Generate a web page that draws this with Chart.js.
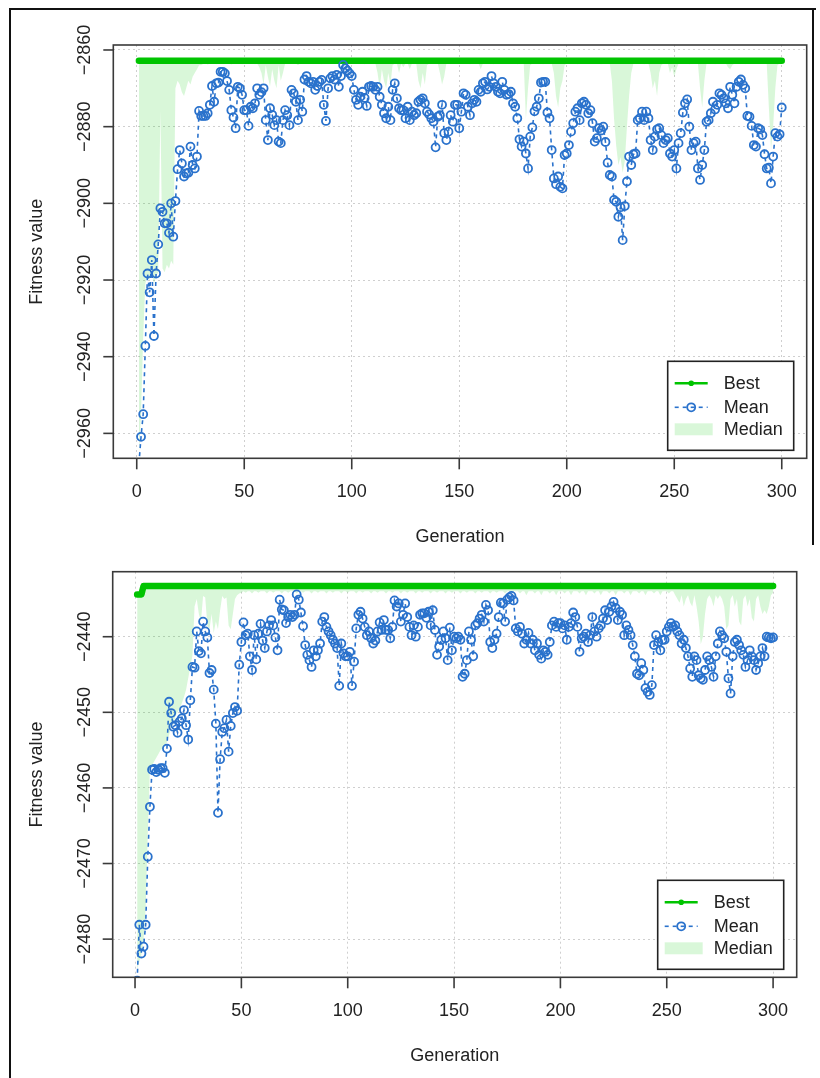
<!DOCTYPE html>
<html>
<head>
<meta charset="utf-8">
<script src="https://cdn.jsdelivr.net/npm/chart.js@4.4.1/dist/chart.umd.min.js"></script>
<style>
  html, body { margin: 0; padding: 0; background: #fff; }
  body { width: 820px; height: 1078px; position: relative; overflow: hidden; }
  canvas { position: absolute; left: 0; }
  #frameTop { position: absolute; left: 9px; top: 8px; width: 805px; height: 1100px; border-left: 2px solid #111; border-top: 2px solid #111; }
  #frameRight { position: absolute; left: 812px; top: 8px; width: 0; height: 537px; border-left: 2px solid #111; }
</style>
</head>
<body>
<div id="frameTop"></div>
<div id="frameRight"></div>
<canvas id="chartTop" width="820" height="560" style="top:0"></canvas>
<canvas id="chartBottom" width="820" height="538" style="top:540px"></canvas>

<script>
// generations 1..300
const generations = Array.from({ length: 300 }, (_, i) => i + 1);

const xTicks = [0, 50, 100, 150, 200, 250, 300];
const yTicksTop = [-2960, -2940, -2920, -2900, -2880, -2860];
const yTicksBottom = [-2480, -2470, -2460, -2450, -2440];

// ---- top run ----
const bestTop = [
  -2862.8, -2862.8, -2862.8, -2862.8, -2862.8, -2862.8, -2862.8, -2862.8, -2862.8, -2862.8,
  -2862.8, -2862.8, -2862.8, -2862.8, -2862.8, -2862.8, -2862.8, -2862.8, -2862.8, -2862.8,
  -2862.8, -2862.8, -2862.8, -2862.8, -2862.8, -2862.8, -2862.8, -2862.8, -2862.8, -2862.8,
  -2862.8, -2862.8, -2862.8, -2862.8, -2862.8, -2862.8, -2862.8, -2862.8, -2862.8, -2862.8,
  -2862.8, -2862.8, -2862.8, -2862.8, -2862.8, -2862.8, -2862.8, -2862.8, -2862.8, -2862.8,
  -2862.8, -2862.8, -2862.8, -2862.8, -2862.8, -2862.8, -2862.8, -2862.8, -2862.8, -2862.8,
  -2862.8, -2862.8, -2862.8, -2862.8, -2862.8, -2862.8, -2862.8, -2862.8, -2862.8, -2862.8,
  -2862.8, -2862.8, -2862.8, -2862.8, -2862.8, -2862.8, -2862.8, -2862.8, -2862.8, -2862.8,
  -2862.8, -2862.8, -2862.8, -2862.8, -2862.8, -2862.8, -2862.8, -2862.8, -2862.8, -2862.8,
  -2862.8, -2862.8, -2862.8, -2862.8, -2862.8, -2862.8, -2862.8, -2862.8, -2862.8, -2862.8,
  -2862.8, -2862.8, -2862.8, -2862.8, -2862.8, -2862.8, -2862.8, -2862.8, -2862.8, -2862.8,
  -2862.8, -2862.8, -2862.8, -2862.8, -2862.8, -2862.8, -2862.8, -2862.8, -2862.8, -2862.8,
  -2862.8, -2862.8, -2862.8, -2862.8, -2862.8, -2862.8, -2862.8, -2862.8, -2862.8, -2862.8,
  -2862.8, -2862.8, -2862.8, -2862.8, -2862.8, -2862.8, -2862.8, -2862.8, -2862.8, -2862.8,
  -2862.8, -2862.8, -2862.8, -2862.8, -2862.8, -2862.8, -2862.8, -2862.8, -2862.8, -2862.8,
  -2862.8, -2862.8, -2862.8, -2862.8, -2862.8, -2862.8, -2862.8, -2862.8, -2862.8, -2862.8,
  -2862.8, -2862.8, -2862.8, -2862.8, -2862.8, -2862.8, -2862.8, -2862.8, -2862.8, -2862.8,
  -2862.8, -2862.8, -2862.8, -2862.8, -2862.8, -2862.8, -2862.8, -2862.8, -2862.8, -2862.8,
  -2862.8, -2862.8, -2862.8, -2862.8, -2862.8, -2862.8, -2862.8, -2862.8, -2862.8, -2862.8,
  -2862.8, -2862.8, -2862.8, -2862.8, -2862.8, -2862.8, -2862.8, -2862.8, -2862.8, -2862.8,
  -2862.8, -2862.8, -2862.8, -2862.8, -2862.8, -2862.8, -2862.8, -2862.8, -2862.8, -2862.8,
  -2862.8, -2862.8, -2862.8, -2862.8, -2862.8, -2862.8, -2862.8, -2862.8, -2862.8, -2862.8,
  -2862.8, -2862.8, -2862.8, -2862.8, -2862.8, -2862.8, -2862.8, -2862.8, -2862.8, -2862.8,
  -2862.8, -2862.8, -2862.8, -2862.8, -2862.8, -2862.8, -2862.8, -2862.8, -2862.8, -2862.8,
  -2862.8, -2862.8, -2862.8, -2862.8, -2862.8, -2862.8, -2862.8, -2862.8, -2862.8, -2862.8,
  -2862.8, -2862.8, -2862.8, -2862.8, -2862.8, -2862.8, -2862.8, -2862.8, -2862.8, -2862.8,
  -2862.8, -2862.8, -2862.8, -2862.8, -2862.8, -2862.8, -2862.8, -2862.8, -2862.8, -2862.8,
  -2862.8, -2862.8, -2862.8, -2862.8, -2862.8, -2862.8, -2862.8, -2862.8, -2862.8, -2862.8,
  -2862.8, -2862.8, -2862.8, -2862.8, -2862.8, -2862.8, -2862.8, -2862.8, -2862.8, -2862.8,
  -2862.8, -2862.8, -2862.8, -2862.8, -2862.8, -2862.8, -2862.8, -2862.8, -2862.8, -2862.8
];

const meanTop = [
  -2968, -2960.9, -2955.0, -2937.2, -2918.3, -2923.2, -2914.8, -2934.6, -2918.3, -2910.7,
  -2901.3, -2902.2, -2905.2, -2905.2, -2907.7, -2900.0, -2908.7, -2899.4, -2891.1, -2886.1,
  -2889.6, -2893.0, -2892.2, -2892.0, -2885.2, -2890.0, -2890.9, -2887.8, -2875.9, -2877.2,
  -2877.2, -2877.2, -2876.5, -2874.3, -2869.4, -2873.5, -2868.7, -2868.5, -2865.7, -2865.7,
  -2866.1, -2868.1, -2870.4, -2875.7, -2877.6, -2880.4, -2869.6, -2870.0, -2871.7, -2875.7,
  -2875.7, -2879.8, -2874.8, -2875.2, -2873.9, -2870.0, -2871.7, -2871.0, -2870.0, -2878.3,
  -2883.5, -2875.2, -2876.9, -2879.6, -2878.3, -2883.9, -2884.3, -2878.3, -2875.7, -2877.0,
  -2879.6, -2870.4, -2871.3, -2873.5, -2878.3, -2873.0, -2876.1, -2867.7, -2866.8, -2868.3,
  -2868.7, -2868.3, -2870.4, -2869.4, -2868.3, -2867.8, -2874.3, -2878.5, -2870.0, -2867.4,
  -2866.8, -2867.7, -2866.5, -2869.6, -2866.8, -2863.9, -2864.8, -2865.4, -2866.1, -2866.8,
  -2870.4, -2873.0, -2874.3, -2872.2, -2870.9, -2872.5, -2874.6, -2869.6, -2869.4, -2869.6,
  -2870.4, -2869.6, -2872.2, -2874.3, -2876.5, -2877.8, -2874.8, -2878.3, -2870.4, -2868.7,
  -2872.6, -2875.2, -2875.7, -2875.7, -2877.8, -2874.8, -2878.3, -2876.1, -2877.0, -2876.5,
  -2873.5, -2873.0, -2872.6, -2873.9, -2876.1, -2876.8, -2877.8, -2878.7, -2885.4, -2877.4,
  -2877.0, -2874.3, -2881.7, -2883.5, -2881.3, -2877.0, -2878.7, -2874.3, -2874.3, -2880.4,
  -2876.1, -2871.3, -2871.7, -2874.8, -2877.0, -2873.9, -2873.0, -2873.5, -2870.4, -2870.9,
  -2868.7, -2868.3, -2870.3, -2869.6, -2866.8, -2868.7, -2869.6, -2870.9, -2871.3, -2868.3,
  -2870.4, -2871.7, -2871.5, -2870.9, -2873.9, -2874.8, -2877.8, -2883.3, -2885.2, -2883.9,
  -2887.0, -2890.9, -2882.6, -2880.2, -2876.0, -2874.8, -2872.6, -2868.5, -2868.3, -2868.3,
  -2876.3, -2877.8, -2886.1, -2893.5, -2895.0, -2893.0, -2895.7, -2896.1, -2887.4, -2887.0,
  -2884.8, -2881.3, -2879.1, -2876.1, -2875.2, -2878.3, -2873.9, -2873.5, -2874.3, -2876.5,
  -2875.7, -2879.1, -2883.9, -2883.0, -2880.4, -2881.0, -2880.0, -2884.0, -2889.4, -2892.6,
  -2893.0, -2899.1, -2899.6, -2903.5, -2901.0, -2909.6, -2900.7, -2894.3, -2887.8, -2890.0,
  -2887.2, -2887.0, -2878.3, -2877.8, -2876.1, -2878.3, -2876.1, -2877.8, -2883.5, -2886.1,
  -2882.6, -2880.7, -2880.4, -2882.2, -2884.3, -2883.5, -2883.0, -2887.0, -2887.8, -2886.1,
  -2890.9, -2884.3, -2881.7, -2876.3, -2873.9, -2872.9, -2880.0, -2886.1, -2884.3, -2883.9,
  -2890.9, -2893.9, -2890.0, -2886.1, -2878.7, -2878.3, -2876.5, -2873.5, -2875.5, -2874.3,
  -2871.3, -2871.7, -2872.6, -2873.9, -2875.2, -2869.6, -2871.7, -2873.9, -2869.6, -2868.3,
  -2867.7, -2869.1, -2870.0, -2877.2, -2877.4, -2879.8, -2884.8, -2885.2, -2880.4, -2880.7,
  -2882.2, -2887.2, -2890.9, -2890.7, -2894.8, -2887.8, -2881.7, -2882.6, -2882.0, -2875.0
];

const medianTop = [
  -2966, -2955, -2935, -2921, -2919, -2920, -2918, -2921, -2919, -2918,
  -2876, -2917, -2918, -2916, -2917, -2915, -2916, -2870, -2868, -2869,
  -2871, -2872, -2870, -2868, -2869, -2867, -2866, -2865, -2864, -2864,
  -2863.6, -2863.5, -2863.8, -2863.5, -2863.6, -2863.5, -2863.7, -2863.5, -2863.6, -2863.5,
  -2863.5, -2863.6, -2863.5, -2863.8, -2863.5, -2863.6, -2863.5, -2863.5, -2863.7, -2863.5,
  -2863.5, -2863.6, -2863.5, -2863.5, -2863.7, -2863.5, -2864.5, -2866.0, -2869.0, -2864.0,
  -2867.0, -2869.5, -2865.0, -2868.0, -2870.0, -2864.0, -2868.0, -2866.0, -2863.6, -2863.5,
  -2863.5, -2863.6, -2863.5, -2863.5, -2864.0, -2863.5, -2863.6, -2863.5, -2863.5, -2863.5,
  -2863.5, -2863.5, -2863.6, -2863.5, -2863.5, -2863.7, -2863.5, -2863.5, -2863.6, -2863.5,
  -2863.5, -2863.5, -2863.6, -2863.5, -2863.5, -2863.5, -2863.7, -2863.5, -2863.5, -2863.6,
  -2863.5, -2863.5, -2863.6, -2863.5, -2863.5, -2863.7, -2863.5, -2863.5, -2863.6, -2863.5,
  -2863.5, -2866.0, -2870.0, -2865.0, -2868.0, -2870.0, -2866.0, -2869.0, -2864.0, -2863.5,
  -2863.5, -2866.0, -2863.6, -2864.5, -2863.5, -2863.5, -2865.0, -2863.5, -2863.5, -2863.5,
  -2868.0, -2870.0, -2866.0, -2869.0, -2864.0, -2863.5, -2863.5, -2863.5, -2863.6, -2863.5,
  -2866.0, -2869.0, -2867.0, -2863.6, -2863.5, -2863.5, -2863.6, -2863.5, -2863.5, -2863.5,
  -2863.5, -2863.6, -2863.5, -2863.5, -2863.7, -2863.5, -2863.5, -2863.6, -2863.5, -2865.0,
  -2863.5, -2863.5, -2863.6, -2863.5, -2863.5, -2863.7, -2863.5, -2863.5, -2863.6, -2863.5,
  -2863.5, -2863.5, -2863.6, -2863.5, -2863.5, -2863.5, -2863.7, -2863.5, -2863.5, -2863.6,
  -2878.0, -2870.0, -2864.0, -2863.5, -2863.5, -2863.6, -2863.5, -2863.5, -2863.7, -2863.5,
  -2863.5, -2863.5, -2863.5, -2866.0, -2872.0, -2875.0, -2870.0, -2868.0, -2864.0, -2863.5,
  -2863.5, -2863.6, -2863.5, -2863.5, -2863.7, -2863.5, -2863.5, -2863.6, -2863.5, -2863.5,
  -2863.5, -2863.5, -2863.6, -2863.5, -2863.5, -2863.7, -2863.5, -2863.5, -2863.6, -2863.5,
  -2868.0, -2878.0, -2885.0, -2890.0, -2888.0, -2892.0, -2889.0, -2880.0, -2872.0, -2866.0,
  -2863.5, -2863.5, -2863.6, -2863.5, -2863.5, -2863.7, -2863.5, -2863.5, -2866.0, -2870.0,
  -2868.0, -2872.0, -2866.0, -2864.0, -2863.5, -2863.5, -2863.5, -2866.0, -2864.5, -2867.0,
  -2865.0, -2863.5, -2863.5, -2863.6, -2863.5, -2863.5, -2863.7, -2863.5, -2863.5, -2863.5,
  -2863.5, -2870.0, -2875.0, -2868.0, -2863.5, -2863.6, -2863.5, -2863.5, -2863.7, -2863.5,
  -2863.5, -2863.6, -2863.5, -2863.5, -2864.5, -2865.0, -2864.0, -2863.5, -2863.6, -2863.5,
  -2863.5, -2863.5, -2863.7, -2863.5, -2863.5, -2863.6, -2863.5, -2863.5, -2863.5, -2863.5,
  -2863.5, -2863.5, -2863.5, -2875.0, -2886.0, -2880.0, -2870.0, -2864.0, -2863.5, -2863.5
];

// ---- bottom run ----
const bestBottom = [
  -2434.4, -2434.4, -2434.4, -2433.3, -2433.3, -2433.3, -2433.3, -2433.3, -2433.3, -2433.3,
  -2433.3, -2433.3, -2433.3, -2433.3, -2433.3, -2433.3, -2433.3, -2433.3, -2433.3, -2433.3,
  -2433.3, -2433.3, -2433.3, -2433.3, -2433.3, -2433.3, -2433.3, -2433.3, -2433.3, -2433.3,
  -2433.3, -2433.3, -2433.3, -2433.3, -2433.3, -2433.3, -2433.3, -2433.3, -2433.3, -2433.3,
  -2433.3, -2433.3, -2433.3, -2433.3, -2433.3, -2433.3, -2433.3, -2433.3, -2433.3, -2433.3,
  -2433.3, -2433.3, -2433.3, -2433.3, -2433.3, -2433.3, -2433.3, -2433.3, -2433.3, -2433.3,
  -2433.3, -2433.3, -2433.3, -2433.3, -2433.3, -2433.3, -2433.3, -2433.3, -2433.3, -2433.3,
  -2433.3, -2433.3, -2433.3, -2433.3, -2433.3, -2433.3, -2433.3, -2433.3, -2433.3, -2433.3,
  -2433.3, -2433.3, -2433.3, -2433.3, -2433.3, -2433.3, -2433.3, -2433.3, -2433.3, -2433.3,
  -2433.3, -2433.3, -2433.3, -2433.3, -2433.3, -2433.3, -2433.3, -2433.3, -2433.3, -2433.3,
  -2433.3, -2433.3, -2433.3, -2433.3, -2433.3, -2433.3, -2433.3, -2433.3, -2433.3, -2433.3,
  -2433.3, -2433.3, -2433.3, -2433.3, -2433.3, -2433.3, -2433.3, -2433.3, -2433.3, -2433.3,
  -2433.3, -2433.3, -2433.3, -2433.3, -2433.3, -2433.3, -2433.3, -2433.3, -2433.3, -2433.3,
  -2433.3, -2433.3, -2433.3, -2433.3, -2433.3, -2433.3, -2433.3, -2433.3, -2433.3, -2433.3,
  -2433.3, -2433.3, -2433.3, -2433.3, -2433.3, -2433.3, -2433.3, -2433.3, -2433.3, -2433.3,
  -2433.3, -2433.3, -2433.3, -2433.3, -2433.3, -2433.3, -2433.3, -2433.3, -2433.3, -2433.3,
  -2433.3, -2433.3, -2433.3, -2433.3, -2433.3, -2433.3, -2433.3, -2433.3, -2433.3, -2433.3,
  -2433.3, -2433.3, -2433.3, -2433.3, -2433.3, -2433.3, -2433.3, -2433.3, -2433.3, -2433.3,
  -2433.3, -2433.3, -2433.3, -2433.3, -2433.3, -2433.3, -2433.3, -2433.3, -2433.3, -2433.3,
  -2433.3, -2433.3, -2433.3, -2433.3, -2433.3, -2433.3, -2433.3, -2433.3, -2433.3, -2433.3,
  -2433.3, -2433.3, -2433.3, -2433.3, -2433.3, -2433.3, -2433.3, -2433.3, -2433.3, -2433.3,
  -2433.3, -2433.3, -2433.3, -2433.3, -2433.3, -2433.3, -2433.3, -2433.3, -2433.3, -2433.3,
  -2433.3, -2433.3, -2433.3, -2433.3, -2433.3, -2433.3, -2433.3, -2433.3, -2433.3, -2433.3,
  -2433.3, -2433.3, -2433.3, -2433.3, -2433.3, -2433.3, -2433.3, -2433.3, -2433.3, -2433.3,
  -2433.3, -2433.3, -2433.3, -2433.3, -2433.3, -2433.3, -2433.3, -2433.3, -2433.3, -2433.3,
  -2433.3, -2433.3, -2433.3, -2433.3, -2433.3, -2433.3, -2433.3, -2433.3, -2433.3, -2433.3,
  -2433.3, -2433.3, -2433.3, -2433.3, -2433.3, -2433.3, -2433.3, -2433.3, -2433.3, -2433.3,
  -2433.3, -2433.3, -2433.3, -2433.3, -2433.3, -2433.3, -2433.3, -2433.3, -2433.3, -2433.3,
  -2433.3, -2433.3, -2433.3, -2433.3, -2433.3, -2433.3, -2433.3, -2433.3, -2433.3, -2433.3,
  -2433.3, -2433.3, -2433.3, -2433.3, -2433.3, -2433.3, -2433.3, -2433.3, -2433.3, -2433.3
];

const meanBottom = [
  -2485.5, -2478.1, -2481.9, -2481.0, -2478.1, -2469.1, -2462.5, -2457.6, -2457.5, -2457.9,
  -2457.6, -2457.4, -2457.4, -2458.0, -2454.8, -2448.6, -2450.1, -2451.9, -2451.7, -2452.7,
  -2451.2, -2450.8, -2449.7, -2451.7, -2453.6, -2448.4, -2444.0, -2444.1, -2439.3, -2441.9,
  -2442.2, -2438.0, -2439.3, -2440.1, -2444.8, -2444.4, -2447.0, -2451.5, -2463.3, -2456.2,
  -2452.6, -2452.1, -2451.0, -2455.2, -2451.8, -2450.1, -2449.3, -2449.8, -2443.7, -2440.7,
  -2438.1, -2439.8, -2439.6, -2442.6, -2444.4, -2439.8, -2443.0, -2439.6, -2438.3, -2440.5,
  -2441.5, -2439.3, -2438.5, -2437.8, -2438.5, -2440.1, -2441.8, -2435.1, -2436.4, -2436.5,
  -2438.2, -2437.4, -2437.1, -2437.4, -2437.1, -2434.4, -2435.1, -2436.8, -2438.6, -2441.1,
  -2442.4, -2443.1, -2444.0, -2441.8, -2442.6, -2441.8, -2440.9, -2438.0, -2437.4, -2438.7,
  -2439.3, -2439.8, -2440.4, -2440.9, -2441.5, -2446.5, -2440.9, -2442.2, -2442.6, -2442.6,
  -2442.0, -2446.5, -2443.3, -2438.9, -2437.1, -2436.7, -2437.6, -2438.7, -2439.8, -2439.3,
  -2440.2, -2440.9, -2440.5, -2439.3, -2438.1, -2439.1, -2437.8, -2439.1, -2439.1, -2440.2,
  -2438.7, -2435.2, -2436.0, -2435.6, -2438.0, -2437.1, -2435.6, -2437.4, -2438.7, -2439.8,
  -2438.5, -2440.0, -2438.7, -2437.1, -2436.9, -2436.9, -2437.5, -2436.7, -2438.5, -2436.5,
  -2439.1, -2442.4, -2441.3, -2440.4, -2439.3, -2440.2, -2443.1, -2438.8, -2441.8, -2440.0,
  -2440.2, -2440.0, -2440.4, -2445.3, -2444.9, -2443.1, -2439.3, -2440.4, -2442.6, -2438.5,
  -2438.2, -2437.6, -2437.1, -2438.0, -2435.8, -2436.5, -2440.7, -2441.5, -2440.4, -2439.6,
  -2437.4, -2435.5, -2435.6, -2438.0, -2435.1, -2434.8, -2434.6, -2435.2, -2438.9, -2439.3,
  -2438.7, -2439.6, -2440.9, -2440.4, -2439.5, -2440.9, -2440.4, -2441.8, -2440.9, -2442.4,
  -2442.9, -2441.8, -2442.0, -2442.4, -2440.7, -2438.5, -2438.0, -2438.7, -2438.2, -2438.2,
  -2438.9, -2438.5, -2440.4, -2438.7, -2438.2, -2436.8, -2437.4, -2438.7, -2442.0, -2440.2,
  -2440.0, -2439.6, -2440.7, -2439.8, -2437.4, -2439.3, -2440.0, -2438.9, -2438.5, -2437.6,
  -2436.5, -2437.8, -2436.7, -2436.0, -2435.4, -2436.2, -2437.8, -2436.7, -2437.1, -2439.8,
  -2438.5, -2439.1, -2439.8, -2441.1, -2442.6, -2444.9, -2445.1, -2443.5, -2444.4, -2446.8,
  -2447.3, -2447.7, -2446.4, -2441.1, -2439.8, -2440.7, -2441.8, -2440.4, -2440.4, -2439.3,
  -2438.7, -2438.2, -2438.7, -2438.5, -2439.3, -2439.8, -2440.9, -2440.4, -2441.5, -2442.6,
  -2444.2, -2445.3, -2442.6, -2443.1, -2445.1, -2445.5, -2445.7, -2444.4, -2442.6, -2443.1,
  -2444.0, -2445.3, -2442.6, -2440.9, -2439.3, -2439.8, -2440.2, -2442.0, -2445.5, -2447.5,
  -2442.6, -2440.7, -2440.4, -2441.1, -2441.8, -2442.4, -2444.0, -2443.1, -2441.8, -2442.6,
  -2443.1, -2444.4, -2443.5, -2442.6, -2441.5, -2442.6, -2440.0, -2440.1, -2440.2, -2440.1
];

const medianBottom = [
  -2484, -2483, -2482, -2480, -2476, -2466, -2457.5, -2457, -2456.5, -2456,
  -2455.5, -2455, -2454.8, -2454.3, -2454, -2453, -2452, -2451.5, -2450.5, -2450,
  -2449.5, -2448.8, -2448, -2447, -2445.5, -2444, -2442.5, -2436, -2435, -2437,
  -2438, -2434.6, -2434.8, -2438.5, -2439, -2437, -2439.5, -2438, -2439, -2436.5,
  -2434.6, -2435, -2434.8, -2438.5, -2439, -2437, -2435, -2434.5, -2434.3, -2434.2,
  -2434.0, -2434.2, -2434.0, -2434.0, -2434.3, -2434.0, -2434.0, -2434.2, -2434.0, -2434.0,
  -2434.0, -2434.3, -2434.0, -2434.0, -2434.2, -2434.0, -2434.0, -2434.0, -2434.3, -2434.0,
  -2434.0, -2434.2, -2434.0, -2434.0, -2434.0, -2434.3, -2434.0, -2434.0, -2434.2, -2434.0,
  -2434.0, -2434.0, -2434.3, -2434.0, -2434.0, -2434.2, -2434.0, -2434.0, -2434.0, -2434.3,
  -2434.0, -2434.0, -2434.2, -2434.0, -2434.0, -2434.0, -2434.3, -2434.0, -2434.0, -2434.2,
  -2434.0, -2434.0, -2434.0, -2434.3, -2434.0, -2434.0, -2434.2, -2434.0, -2434.0, -2434.0,
  -2434.3, -2434.0, -2434.0, -2434.2, -2434.0, -2434.0, -2434.0, -2434.3, -2434.0, -2434.0,
  -2434.2, -2434.0, -2434.0, -2434.0, -2434.3, -2434.0, -2434.0, -2434.2, -2434.0, -2434.0,
  -2434.0, -2434.3, -2434.0, -2434.0, -2434.2, -2434.0, -2434.0, -2434.0, -2434.3, -2434.0,
  -2434.0, -2434.2, -2434.0, -2434.0, -2434.0, -2434.3, -2434.0, -2434.0, -2434.2, -2434.0,
  -2434.0, -2434.0, -2434.3, -2434.0, -2434.0, -2434.2, -2434.0, -2434.0, -2434.0, -2434.3,
  -2434.0, -2434.0, -2434.2, -2434.0, -2434.0, -2434.0, -2434.3, -2434.0, -2434.0, -2434.2,
  -2434.0, -2434.0, -2434.0, -2434.3, -2434.0, -2434.0, -2434.2, -2434.0, -2434.0, -2434.0,
  -2434.3, -2434.0, -2434.0, -2434.5, -2434.0, -2434.0, -2434.0, -2434.3, -2434.0, -2434.0,
  -2434.5, -2434.0, -2434.0, -2434.0, -2434.3, -2434.0, -2434.0, -2434.5, -2434.0, -2434.0,
  -2434.0, -2434.3, -2434.0, -2434.0, -2434.5, -2434.0, -2434.0, -2434.0, -2434.3, -2434.0,
  -2434.0, -2434.5, -2434.0, -2434.0, -2434.0, -2434.3, -2434.0, -2434.0, -2434.5, -2434.0,
  -2434.0, -2434.0, -2434.3, -2434.0, -2434.0, -2434.5, -2434.0, -2434.0, -2434.0, -2434.3,
  -2434.0, -2434.0, -2434.5, -2434.0, -2434.0, -2434.0, -2434.3, -2434.0, -2434.0, -2434.5,
  -2434.0, -2434.0, -2434.0, -2434.3, -2434.0, -2434.0, -2434.5, -2434.0, -2434.0, -2434.0,
  -2434.3, -2434.0, -2434.0, -2434.5, -2435.0, -2435.5, -2434.5, -2436.0, -2435.0, -2434.5,
  -2435.5, -2436.0, -2434.5, -2436.0, -2438.0, -2441.0, -2440.0, -2437.0, -2435.0, -2434.5,
  -2435.0, -2436.0, -2434.5, -2435.0, -2434.5, -2435.0, -2436.0, -2439.0, -2438.5, -2435.0,
  -2434.5, -2436.0, -2435.0, -2438.0, -2438.5, -2435.0, -2434.5, -2436.0, -2435.0, -2437.5,
  -2438.0, -2435.0, -2434.5, -2436.0, -2437.0, -2436.5, -2437.0, -2436.0, -2434.5, -2434.2
];

const seriesLabels = ['Best', 'Mean', 'Median'];
const xTitle = 'Generation';
const yTitle = 'Fitness value';

const GREEN = '#00c400';
const BLUE = '#2a72cc';
const FILL = 'rgba(0, 200, 0, 0.15)';
const FONT = '18px "Liberation Sans", Arial, sans-serif';

const toXY = arr => arr.map((v, i) => ({ x: generations[i], y: v }));

const fmt = v => String(v).replace('-', '\u2212');

// R-like frame, ticks, labels and legend
const rStyle = {
  id: 'rStyle',
  afterDraw(chart, args, o) {
    const { ctx, chartArea: a } = chart;
    const x = chart.scales.x, y = chart.scales.y;
    const line = (x1, y1, x2, y2) => { ctx.beginPath(); ctx.moveTo(x1, y1); ctx.lineTo(x2, y2); ctx.stroke(); };

    ctx.save();
    ctx.strokeStyle = '#3a3a3a';
    ctx.lineWidth = 1.6;
    ctx.strokeRect(a.left, a.top, a.right - a.left, a.bottom - a.top);

    ctx.fillStyle = '#222';
    ctx.font = FONT;
    ctx.textAlign = 'center';
    ctx.textBaseline = 'middle';

    o.xTicks.forEach(v => {
      const px = x.getPixelForValue(v);
      line(px, a.bottom, px, a.bottom + 11);
      ctx.fillText(String(v), px, a.bottom + 34);
    });
    o.yTicks.forEach(v => {
      const py = y.getPixelForValue(v);
      line(a.left - 10, py, a.left, py);
      ctx.save();
      ctx.translate(a.left - 28, py);
      ctx.rotate(-Math.PI / 2);
      ctx.fillText(fmt(v), 0, 0);
      ctx.restore();
    });

    ctx.fillText(xTitle, (a.left + a.right) / 2, a.bottom + 79);
    ctx.save();
    ctx.translate(37, (a.top + a.bottom) / 2);
    ctx.rotate(-Math.PI / 2);
    ctx.fillText(yTitle, 0, 0);
    ctx.restore();

    // legend box
    const lw = 126, lh = 89;
    const lx = a.right - 139, ly = a.bottom - 97;
    ctx.fillStyle = '#fff';
    ctx.fillRect(lx, ly, lw, lh);
    ctx.strokeStyle = '#222';
    ctx.lineWidth = 1.6;
    ctx.strokeRect(lx, ly, lw, lh);

    const rows = [ly + 22, ly + 46, ly + 68];
    const labels = chart.data.datasets.map(d => d.label);

    ctx.strokeStyle = GREEN;
    ctx.lineWidth = 2.5;
    line(lx + 7, rows[0], lx + 40, rows[0]);
    ctx.fillStyle = GREEN;
    ctx.beginPath(); ctx.arc(lx + 23.5, rows[0], 2.8, 0, Math.PI * 2); ctx.fill();

    ctx.strokeStyle = BLUE;
    ctx.lineWidth = 1.6;
    ctx.setLineDash([4, 4]);
    line(lx + 7, rows[1], lx + 40, rows[1]);
    ctx.setLineDash([]);
    ctx.lineWidth = 1.8;
    ctx.beginPath(); ctx.arc(lx + 23.5, rows[1], 4, 0, Math.PI * 2); ctx.stroke();

    ctx.fillStyle = FILL;
    ctx.fillRect(lx + 7, rows[2] - 6, 38, 12);

    ctx.fillStyle = '#222';
    ctx.textAlign = 'left';
    labels.forEach((t, i) => ctx.fillText(t, lx + 56, rows[i] + 1));
    ctx.restore();
  }
};

function makeChart(id, h, area, xRange, yRange, yTicks, best, mean, median) {
  new Chart(document.getElementById(id), {
    type: 'line',
    data: {
      datasets: [
        {
          label: seriesLabels[0],
          data: toXY(best),
          borderColor: GREEN,
          backgroundColor: GREEN,
          borderWidth: 6.5,
          borderCapStyle: 'round',
          borderJoinStyle: 'round',
          pointRadius: 0,
          order: 1
        },
        {
          label: seriesLabels[1],
          data: toXY(mean),
          borderColor: BLUE,
          borderWidth: 1.6,
          borderDash: [4, 4],
          pointRadius: 4,
          pointBorderWidth: 1.8,
          pointBorderColor: BLUE,
          pointBackgroundColor: 'rgba(0,0,0,0)',
          clip: 0,
          order: 0
        },
        {
          label: seriesLabels[2],
          data: toXY(median),
          borderColor: 'rgba(0,0,0,0)',
          borderWidth: 0,
          pointRadius: 0,
          backgroundColor: FILL,
          fill: { target: 0 },
          order: 2
        }
      ]
    },
    options: {
      responsive: false,
      animation: false,
      devicePixelRatio: 1,
      layout: { padding: { left: 0, top: area.top, right: 820 - area.right, bottom: 0 } },
      plugins: {
        legend: { display: false },
        tooltip: { enabled: false },
        rStyle: { xTicks: xTicks, yTicks: yTicks }
      },
      scales: {
        x: {
          type: 'linear',
          min: xRange[0],
          max: xRange[1],
          afterBuildTicks: s => { s.ticks = xTicks.map(v => ({ value: v })); },
          afterFit: s => { s.height = h - area.bottom; },
          ticks: { display: false },
          grid: { color: '#cfcfcf', lineWidth: 1, drawTicks: false },
          border: { display: false, dash: [2, 3] }
        },
        y: {
          type: 'linear',
          min: yRange[0],
          max: yRange[1],
          afterBuildTicks: s => { s.ticks = yTicks.map(v => ({ value: v })); },
          afterFit: s => { s.width = area.left; },
          ticks: { display: false },
          grid: { color: '#cfcfcf', lineWidth: 1, drawTicks: false },
          border: { display: false, dash: [2, 3] }
        }
      }
    },
    plugins: [rStyle]
  });
}

makeChart('chartTop', 560,
  { left: 113.3, top: 45, right: 806.7, bottom: 458.3 },
  [-10.9, 311.6], [-2966.5, -2858.7], yTicksTop,
  bestTop, meanTop, medianTop);

makeChart('chartBottom', 538,
  { left: 112.7, top: 31.7, right: 796.7, bottom: 437.3 },
  [-10.5, 311.1], [-2485.05, -2431.4], yTicksBottom,
  bestBottom, meanBottom, medianBottom);
</script>
</body>
</html>
